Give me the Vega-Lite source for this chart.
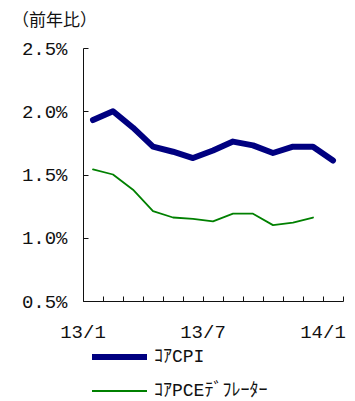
{
  "$schema": "https://vega.github.io/schema/vega-lite/v6.json",
  "autosize": "none",
  "width": 260,
  "height": 253,
  "padding": {"left": 83, "top": 48, "right": 12, "bottom": 100},
  "background": "white",
  "title": {
    "text": "（前年比）",
    "anchor": "start",
    "frame": "group",
    "orient": "top",
    "dx": -71,
    "offset": 9,
    "font": "Noto Sans CJK JP",
    "fontSize": 17,
    "fontWeight": "normal",
    "color": "#111111"
  },
  "data": {
    "values": [
      {"month": "13/1", "series": "ｺｱCPI", "value": 1.93},
      {"month": "13/2", "series": "ｺｱCPI", "value": 2.0},
      {"month": "13/3", "series": "ｺｱCPI", "value": 1.87},
      {"month": "13/4", "series": "ｺｱCPI", "value": 1.72},
      {"month": "13/5", "series": "ｺｱCPI", "value": 1.68},
      {"month": "13/6", "series": "ｺｱCPI", "value": 1.63},
      {"month": "13/7", "series": "ｺｱCPI", "value": 1.69},
      {"month": "13/8", "series": "ｺｱCPI", "value": 1.76},
      {"month": "13/9", "series": "ｺｱCPI", "value": 1.73},
      {"month": "13/10", "series": "ｺｱCPI", "value": 1.67},
      {"month": "13/11", "series": "ｺｱCPI", "value": 1.72},
      {"month": "13/12", "series": "ｺｱCPI", "value": 1.72},
      {"month": "14/1", "series": "ｺｱCPI", "value": 1.61},
      {"month": "13/1", "series": "ｺｱPCEﾃﾞﾌﾚｰﾀｰ", "value": 1.54},
      {"month": "13/2", "series": "ｺｱPCEﾃﾞﾌﾚｰﾀｰ", "value": 1.5},
      {"month": "13/3", "series": "ｺｱPCEﾃﾞﾌﾚｰﾀｰ", "value": 1.38},
      {"month": "13/4", "series": "ｺｱPCEﾃﾞﾌﾚｰﾀｰ", "value": 1.21},
      {"month": "13/5", "series": "ｺｱPCEﾃﾞﾌﾚｰﾀｰ", "value": 1.16},
      {"month": "13/6", "series": "ｺｱPCEﾃﾞﾌﾚｰﾀｰ", "value": 1.15},
      {"month": "13/7", "series": "ｺｱPCEﾃﾞﾌﾚｰﾀｰ", "value": 1.13},
      {"month": "13/8", "series": "ｺｱPCEﾃﾞﾌﾚｰﾀｰ", "value": 1.19},
      {"month": "13/9", "series": "ｺｱPCEﾃﾞﾌﾚｰﾀｰ", "value": 1.19},
      {"month": "13/10", "series": "ｺｱPCEﾃﾞﾌﾚｰﾀｰ", "value": 1.1},
      {"month": "13/11", "series": "ｺｱPCEﾃﾞﾌﾚｰﾀｰ", "value": 1.12},
      {"month": "13/12", "series": "ｺｱPCEﾃﾞﾌﾚｰﾀｰ", "value": 1.16}
    ]
  },
  "mark": {"type": "line", "strokeCap": "round", "strokeJoin": "round"},
  "encoding": {
    "x": {
      "field": "month",
      "type": "ordinal",
      "bandPosition": 0.5,
      "scale": {
        "type": "band",
        "paddingInner": 0,
        "paddingOuter": 0,
        "domain": ["13/1", "13/2", "13/3", "13/4", "13/5", "13/6", "13/7", "13/8", "13/9", "13/10", "13/11", "13/12", "14/1"]
      },
      "axis": {
        "title": null,
        "bandPosition": 1,
        "tickExtra": true,
        "labelOffset": -10,
        "labelAngle": 0,
        "labelExpr": "indexof(['13/1','13/7','14/1'], datum.value) >= 0 ? datum.value : ''",
        "labelFont": "Liberation Mono",
        "labelFontSize": 19,
        "labelColor": "#111111",
        "labelPadding": 26,
        "tickSize": -5,
        "tickColor": "#111111",
        "domainColor": "#111111",
        "grid": false
      }
    },
    "y": {
      "field": "value",
      "type": "quantitative",
      "scale": {"domain": [0.5, 2.5], "nice": false, "zero": false},
      "axis": {
        "title": null,
        "values": [0.5, 1.0, 1.5, 2.0, 2.5],
        "labelExpr": "format(datum.value, '.1f') + '%'",
        "labelFont": "Liberation Mono",
        "labelFontSize": 19,
        "labelColor": "#111111",
        "labelPadding": 21,
        "tickSize": -5,
        "tickColor": "#111111",
        "domainColor": "#111111",
        "grid": false
      }
    },
    "color": {
      "field": "series",
      "type": "nominal",
      "scale": {"domain": ["ｺｱCPI", "ｺｱPCEﾃﾞﾌﾚｰﾀｰ"], "range": ["#000080", "#008000"]},
      "legend": {
        "title": null,
        "orient": "none",
        "legendX": 6,
        "legendY": 301,
        "direction": "vertical",
        "symbolType": "stroke",
        "symbolSize": 3025,
        "clipHeight": 16,
        "rowPadding": 16,
        "labelOffset": 4,
        "labelFont": "Liberation Mono, Noto Sans CJK JP",
        "labelFontSize": 18,
        "labelColor": "#111111",
        "labelLimit": 300
      }
    },
    "strokeWidth": {
      "field": "series",
      "type": "nominal",
      "scale": {"domain": ["ｺｱCPI", "ｺｱPCEﾃﾞﾌﾚｰﾀｰ"], "range": [6, 1.8]},
      "legend": null
    }
  },
  "config": {"view": {"stroke": null}}
}
